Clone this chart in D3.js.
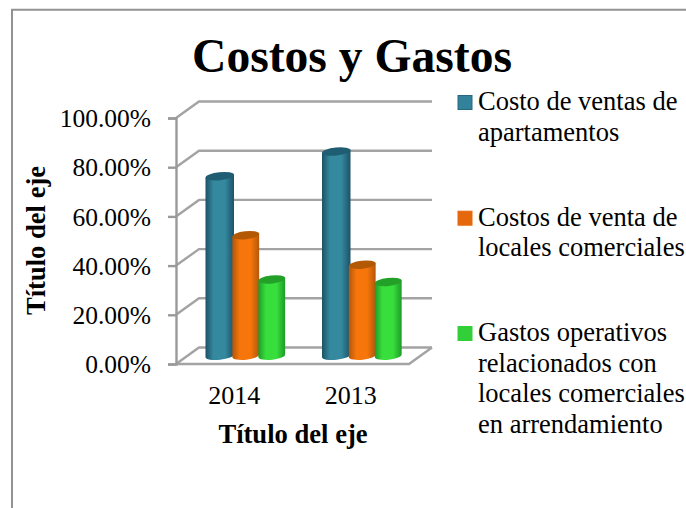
<!DOCTYPE html>
<html>
<head>
<meta charset="utf-8">
<script src="https://cdn.jsdelivr.net/npm/d3@7"></script>
<style>
  html, body { margin: 0; padding: 0; background: #fff; }
  svg { display: block; }
  text { font-family: "Liberation Serif", serif; fill: #000; }
</style>
</head>
<body>
<div id="chart"></div>
<script>
const years = ['2014', '2013'];
const ticks = [0, 20, 40, 60, 80, 100];
const costoApartamentos = [73, 83];
const costoLocales = [49, 37];
const gastosOperativos = [31, 30];

const title = 'Costos y Gastos';
const axisTitle = 'Título del eje';
const legendLines = [
	['Costo de ventas de', 'apartamentos'],
	['Costos de venta de', 'locales comerciales'],
	['Gastos operativos', 'relacionados con', 'locales comerciales', 'en arrendamiento']
];

const palette = [
	{ id: 'blue', edge: '#1c5266', mid: '#34899f', top: '#1f5d72', key: '#33829b', keyEdge: '#28687e' },
	{ id: 'orange', edge: '#b5560a', mid: '#f6760b', top: '#b35805', key: '#e5690c', keyEdge: '#e5690c' },
	{ id: 'green', edge: '#1f9a2a', mid: '#38de3c', top: '#22a028', key: '#33cf38', keyEdge: '#33cf38' }
];

const series = [costoApartamentos, costoLocales, gastosOperativos];

const width = 686, height = 508;
const depthX = 23, depthY = 16.5;

const svg = d3.select('#chart').append('svg').attr('width', width).attr('height', height);

// frame, only top and left show in the picture
svg.append('path')
	.attr('d', `M12,${height}V9.7H${width}`)
	.attr('fill', 'none').attr('stroke', '#929292').attr('stroke-width', 2);

const y = d3.scaleLinear().domain([0, 100]).range([364, 118]);
const x = d3.scaleBand().domain(years).range([176, 409]);
const inner = d3.scaleBand().domain(d3.range(series.length)).range([-39, 39]);

const grid = svg.append('g').attr('fill', 'none').attr('stroke', '#a3a3a3').attr('stroke-width', 2.4);

grid.selectAll('path.wall')
	.data(ticks)
	.enter()
	.append('path')
	.attr('class', 'wall')
	.attr('d', d => `M${x.range()[0]},${y(d)}l${depthX},${-depthY}H${x.range()[1] + depthX}`);

// floor
grid.append('path')
	.attr('d', `M${x.range()[0]},${y(0)}H${x.range()[1]}l${depthX},${-depthY}`);

const yAxis = svg.append('g')
	.attr('transform', `translate(${x.range()[0]},0)`)
	.call(d3.axisLeft(y).tickValues(ticks).tickSize(8).tickPadding(17).tickFormat(d => d.toFixed(2) + '%'));

yAxis.selectAll('.domain, line').attr('stroke', '#9a9a9a').attr('stroke-width', 2.4);
yAxis.selectAll('text').attr('font-size', 25.5).attr('dy', '.34em').attr('font-family', '"Liberation Serif", serif').attr('fill', '#000');

const xAxis = svg.append('g')
	.attr('transform', `translate(0,${y(0)})`)
	.call(d3.axisBottom(x).tickSize(0).tickPadding(21.5));

xAxis.select('.domain').remove();
xAxis.selectAll('text').attr('font-size', 26).attr('font-family', '"Liberation Serif", serif').attr('fill', '#000');

// cylinder shading
const defs = svg.append('defs');
palette.forEach(p => {
	const g = defs.append('linearGradient').attr('id', 'cyl-' + p.id);
	g.append('stop').attr('offset', '0%').attr('stop-color', p.edge);
	g.append('stop').attr('offset', '28%').attr('stop-color', p.mid);
	g.append('stop').attr('offset', '68%').attr('stop-color', p.mid);
	g.append('stop').attr('offset', '100%').attr('stop-color', p.edge);
});

const bars = svg.append('g');
const ry = 4, tilt = 1.5;

years.forEach((year, yi) => {
	series.forEach((values, si) => {
		const w = si == 0 ? 28.5 : 26.8;
		const cx = x(year) + x.bandwidth() / 2 + depthX / 2 + inner(si) + inner.bandwidth() / 2;
		const top = y(values[yi]) - depthY / 2;
		const base = y(0) - depthY / 2;
		const r = w / 2;
		const p = palette[si];

		bars.append('path')
			.attr('d', `M${cx - r},${top + tilt}L${cx - r},${base + tilt}A${r},${ry} -6 0 0 ${cx + r},${base - tilt}L${cx + r},${top - tilt}Z`)
			.attr('fill', `url(#cyl-${p.id})`);

		bars.append('path')
			.attr('d', `M${cx - r},${top + tilt}A${r},${ry} -6 0 1 ${cx + r},${top - tilt}A${r},${ry} -6 0 1 ${cx - r},${top + tilt}Z`)
			.attr('fill', p.top);
	});
});

svg.append('text')
	.attr('x', 352).attr('y', 72)
	.attr('text-anchor', 'middle')
	.attr('font-size', 47.6).attr('font-weight', 'bold')
	.text(title);

svg.append('text')
	.attr('x', 293).attr('y', 443)
	.attr('text-anchor', 'middle')
	.attr('font-size', 26.6).attr('font-weight', 'bold')
	.text(axisTitle);

svg.append('text')
	.attr('transform', 'translate(45,240.5) rotate(-90)')
	.attr('text-anchor', 'middle')
	.attr('font-size', 26.6).attr('font-weight', 'bold')
	.text(axisTitle);

// legend
const legendTops = [110, 225.7, 341];
const legend = svg.append('g');

legendLines.forEach((lines, i) => {
	const row = legend.append('g').attr('transform', `translate(458,${legendTops[i]})`);
	row.append('rect')
		.attr('x', 0).attr('y', -14.5).attr('width', 14).attr('height', 14)
		.attr('fill', palette[i].key)
		.attr('stroke', palette[i].keyEdge);
	row.selectAll('text')
		.data(lines)
		.enter()
		.append('text')
		.attr('x', 20)
		.attr('y', (d, k) => k * 30.7)
		.attr('font-size', 26.5)
		.text(d => d);
});
</script>
</body>
</html>
